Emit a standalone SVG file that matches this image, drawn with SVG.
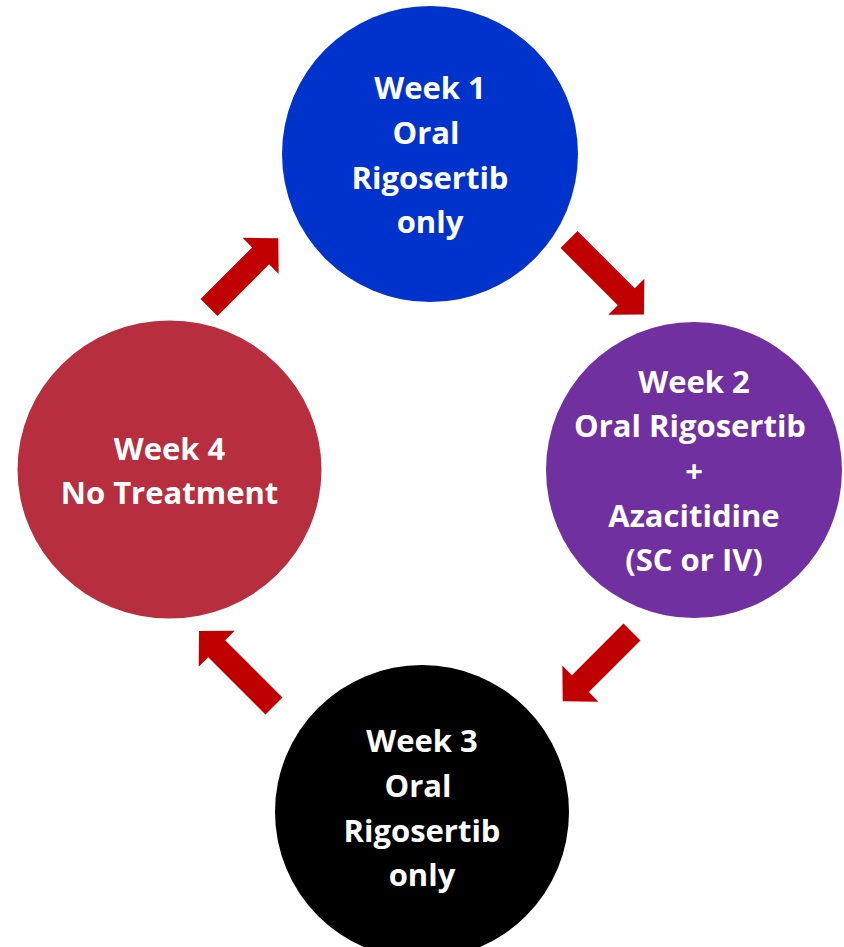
<svg xmlns="http://www.w3.org/2000/svg" width="844" height="947" viewBox="0 0 844 947">
<style>
.lbl{font-family:"Open Sans","Liberation Sans",sans-serif;font-weight:bold;font-size:31px;fill:#ffffff;text-anchor:middle}
.arr{fill:#C00000}
</style>
<defs>
<path id="a98" d="M0,-12 L73,-12 L73,-25.5 L98,0 L73,25.5 L73,12 L0,12 Z"/>
<path id="a106" d="M0,-12 L81,-12 L81,-25.5 L106,0 L81,25.5 L81,12 L0,12 Z"/>
</defs>
<rect width="844" height="947" fill="#ffffff"/>
<g id="connectors" class="arr">
<use href="#a98" transform="translate(209,307.5) rotate(-45)"/>
<use href="#a106" transform="translate(569,239.5) rotate(45)"/>
<use href="#a98" transform="translate(632,632) rotate(135)"/>
<use href="#a106" transform="translate(274,706) rotate(-135)"/>
</g>
<g id="week1">
<circle cx="430" cy="154" r="148" fill="#0033CC"/>
<text class="lbl" x="430" y="99">Week 1</text>
<text class="lbl" x="426" y="144">Oral</text>
<text class="lbl" x="430" y="189">Rigosertib</text>
<text class="lbl" x="430" y="233">only</text>
</g>
<g id="week2">
<circle cx="694" cy="470" r="148" fill="#7030A0"/>
<text class="lbl" x="694" y="393">Week 2</text>
<text class="lbl" x="690" y="437">Oral Rigosertib</text>
<text class="lbl" x="694" y="482">+</text>
<text class="lbl" x="694" y="527">Azacitidine</text>
<text class="lbl" x="694" y="571">(SC or IV)</text>
</g>
<g id="week3">
<circle cx="422" cy="812" r="147" fill="#000000"/>
<text class="lbl" x="422" y="752">Week 3</text>
<text class="lbl" x="418" y="797">Oral</text>
<text class="lbl" x="422" y="842">Rigosertib</text>
<text class="lbl" x="422" y="886">only</text>
</g>
<g id="week4">
<ellipse cx="169.5" cy="469.5" rx="152" ry="149" fill="#B72E3E"/>
<text class="lbl" x="169.5" y="460">Week 4</text>
<text class="lbl" x="169.5" y="504">No Treatment</text>
</g>
</svg>
